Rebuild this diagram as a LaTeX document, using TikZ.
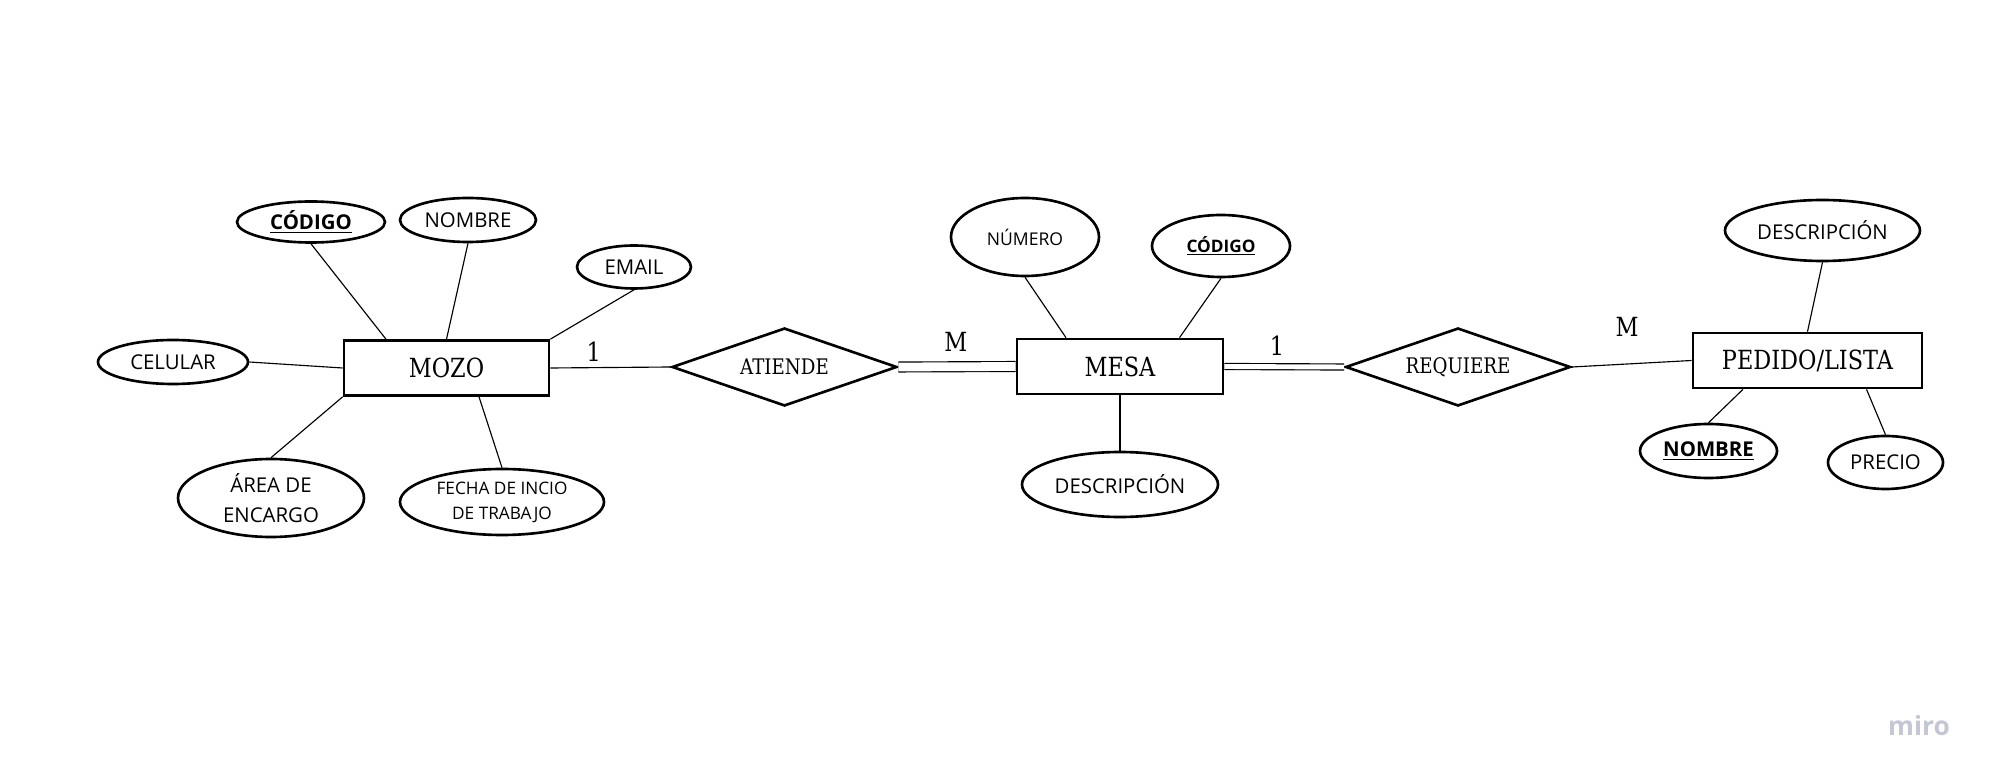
\documentclass[tikz,border=0pt]{standalone}
\usepackage{fontspec}
\setmainfont{Open Sans}
\newfontfamily\slabfont[FakeStretch=0.85]{DejaVu Serif}
\usepackage{tikz}
\usetikzlibrary{shapes.geometric}

\definecolor{mirogray}{RGB}{196,198,212}
\newcommand{\keyattr}[1]{\underline{\textbf{#1}}}

\tikzset{
  entity/.style={draw, line width=1.5pt, inner sep=0pt, minimum height=1.1cm,
    font=\slabfont\fontsize{15}{18}\selectfont},
  relation/.style={diamond, draw, line width=1.5pt, inner sep=0pt, aspect=2.9,
    minimum width=4.5cm, minimum height=1.56cm,
    font=\slabfont\fontsize{12.2}{14}\selectfont},
  attr/.style={ellipse, draw, line width=1.5pt, inner sep=0pt, align=center,
    font=\fontsize{11.6}{17.4}\selectfont},
  conn/.style={line width=0.65pt},
  card/.style={font=\slabfont\fontsize{15}{18}\selectfont}
}

\begin{document}
\begin{tikzpicture}
 	\useasboundingbox (0,0) rectangle (39.94,15.64);
 	% entidades y relaciones
 	\node[entity, minimum width=4.1cm] (mozo) at (8.93,8.28) {MOZO};
 	\node[relation] (atiende) at (15.69,8.30) {ATIENDE};
 	\node[entity, minimum width=4.12cm] (mesa) at (22.40,8.31) {MESA};
 	\node[relation] (requiere) at (29.16,8.30) {REQUIERE};
 	\node[entity, minimum width=4.58cm] (pedido) at (36.15,8.43) {PEDIDO/LISTA};
 	% atributos de MOZO
 	\node[attr, minimum width=2.96cm, minimum height=0.82cm] (codigoA) at (6.22,11.20) {\keyattr{CÓDIGO}};
 	\node[attr, minimum width=2.72cm, minimum height=0.88cm] (nombreA) at (9.36,11.24) {NOMBRE};
 	\node[attr, minimum width=2.28cm, minimum height=0.86cm] (email) at (12.68,10.30) {EMAIL};
 	\node[attr, minimum width=3.0cm, minimum height=0.88cm] (celular) at (3.46,8.40) {CELULAR};
 	\node[attr, minimum width=3.72cm, minimum height=1.56cm] (area) at (5.42,5.68) {ÁREA DE\\ENCARGO};
 	\node[attr, minimum width=4.08cm, minimum height=1.32cm,
 	  font=\fontsize{9.8}{14.2}\selectfont] (fecha) at (10.04,5.60) {FECHA DE INCIO\\DE TRABAJO};
 	% atributos de MESA
 	\node[attr, minimum width=2.96cm, minimum height=1.56cm,
 	  font=\fontsize{10}{12}\selectfont] (numero) at (20.50,10.90) {NÚMERO};
 	\node[attr, minimum width=2.76cm, minimum height=1.24cm,
 	  font=\fontsize{9.8}{12}\selectfont] (codigoB) at (24.42,10.72) {\keyattr{CÓDIGO}};
 	\node[attr, minimum width=3.92cm, minimum height=1.30cm] (descB) at (22.40,5.95) {DESCRIPCIÓN};
 	% atributos de PEDIDO/LISTA
 	\node[attr, minimum width=3.90cm, minimum height=1.22cm] (descC) at (36.45,11.03) {DESCRIPCIÓN};
 	\node[attr, minimum width=2.74cm, minimum height=1.08cm] (nombreC) at (34.17,6.62) {\keyattr{NOMBRE}};
 	\node[attr, minimum width=2.30cm, minimum height=1.06cm] (precio) at (37.71,6.39) {PRECIO};
 	% lineas
 	\draw[conn] (codigoA.south) -- ([xshift=-1.21cm]mozo.north);
 	\draw[conn] (nombreA.south) -- (mozo.north);
 	\draw[conn] (email.south) -- (mozo.north east);
 	\draw[conn] (celular.east) -- (mozo.west);
 	\draw[conn] (area.north) -- (mozo.south west);
 	\draw[conn] (fecha.north) -- ([xshift=0.65cm]mozo.south);
 	\draw[conn] (numero.south) -- ([xshift=-1.08cm]mesa.north);
 	\draw[conn] (codigoB.south) -- ([xshift=1.19cm]mesa.north);
 	\draw[conn] (mesa.south) -- (descB.north);
 	\draw[conn] (descC.south) -- (pedido.north);
 	\draw[conn] (nombreC.north) -- ([xshift=-1.29cm]pedido.south);
 	\draw[conn] (precio.north) -- ([xshift=1.18cm]pedido.south);
 	% relaciones con cardinalidad
 	\draw[conn] (mozo.east) -- (atiende.west) node[card, pos=0.36, above=0pt] (c1) {1};
 	\draw[conn, double, double distance=5pt] (atiende.east) -- (mesa.west) node[card, pos=0.49, above=5pt] (c2) {M};
 	\draw[conn, double, double distance=2.8pt] (mesa.east) -- (requiere.west) node[card, pos=0.44, above=3pt] (c3) {1};
 	\draw[conn] (requiere.east) -- (pedido.west) node[card, pos=0.46, above=12pt] (c4) {M};
 	\node[text=mirogray, font=\bfseries\fontsize{15}{18}\selectfont] (miro) at (38.38,1.12) {miro};
\end{tikzpicture}
\end{document}
